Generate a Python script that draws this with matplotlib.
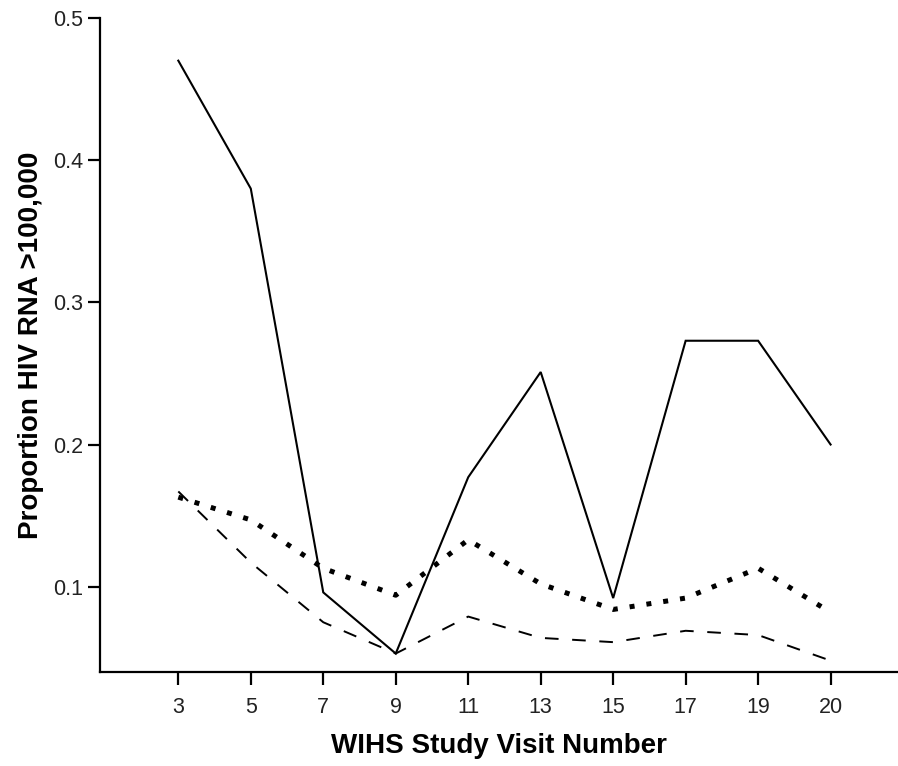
import matplotlib.pyplot as plt

# Datos
visitas = ["3", "5", "7", "9", "11", "13", "15", "17", "19", "20"]
linea_solida = [0.470, 0.380, 0.096, 0.053, 0.177, 0.251, 0.092, 0.273, 0.273, 0.200]
linea_puntos = [0.163, 0.147, 0.113, 0.094, 0.133, 0.102, 0.084, 0.092, 0.113, 0.082]
linea_guiones = [0.167, 0.117, 0.075, 0.053, 0.079, 0.064, 0.061, 0.069, 0.066, 0.048]

plt.rcParams['font.family'] = ['Liberation Sans', 'DejaVu Sans']

fig = plt.figure(figsize=(8.98, 7.66), dpi=100)
ax = fig.add_axes([0.1114, 0.1227, 0.8886, 0.8538])

x = list(range(len(visitas)))
ax.plot(x, linea_solida, color='black', lw=1.5, solid_joinstyle='miter')
ax.plot(x, linea_puntos, color='black', lw=3.6, linestyle=(0, (1, 2.4)))
ax.plot(x, linea_guiones, color='black', lw=1.4, linestyle=(0, (7, 7)))

ax.set_xlim(-1.08, 9.93)
ax.set_ylim(0.040, 0.5)
ax.set_xticks(x)
ax.set_xticklabels(visitas)
ax.set_yticks([0.1, 0.2, 0.3, 0.4, 0.5])
ax.set_yticklabels(["0.1", "0.2", "0.3", "0.4", "0.5"])

for lado in ['top', 'right']:
    ax.spines[lado].set_visible(False)
for lado in ['left', 'bottom']:
    ax.spines[lado].set_linewidth(1.6)

ax.tick_params(axis='both', direction='out', length=9, width=1.6,
               labelsize=15.5, labelcolor='#222222')
ax.tick_params(axis='x', pad=9)
ax.tick_params(axis='y', pad=3)

ax.set_xlabel("WIHS Study Visit Number", fontsize=20, fontweight='bold', labelpad=11)
ax.set_ylabel("Proportion HIV RNA >100,000", fontsize=20, fontweight='bold', labelpad=7)

fig.savefig("out.png", dpi=100)
